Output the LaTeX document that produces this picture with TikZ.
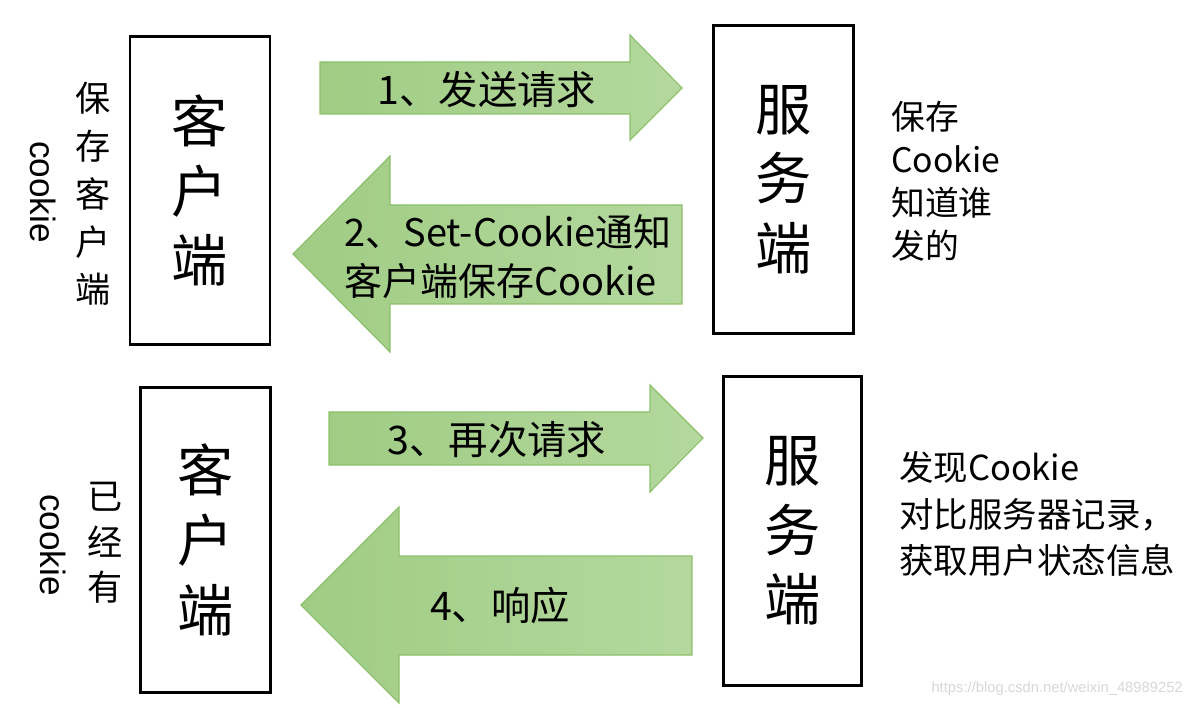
\documentclass[tikz,border=0pt]{standalone}
\usepackage{fontspec}
\setmainfont{Noto Sans CJK SC}
\newfontfamily\arialfont{Liberation Sans}
\usetikzlibrary{positioning}
\definecolor{greendeep}{RGB}{160,204,132}
\definecolor{greenpale}{RGB}{180,216,158}
\definecolor{greenline}{RGB}{140,192,108}
\definecolor{markgray}{RGB}{215,215,215}

\begin{document}
\begin{tikzpicture}[
  x=0.025cm, y=-0.025cm,
  endbox/.style={
    draw=black,
    line width=2.1pt,
    minimum width=3.5cm,
    minimum height=7.72cm,
    inner sep=0pt,
    align=center,
    font=\fontsize{40}{49.5}\selectfont
  },
  blockarrow/.style={
    draw=greenline,
    line width=0.8pt,
    left color=greendeep,
    right color=greenpale
  },
  steptext/.style={font=\fontsize{28}{35}\selectfont, align=left},
  notetext/.style={font=\fontsize{24}{31}\selectfont, align=left, anchor=west, inner sep=0pt},
  stacktext/.style={font=\fontsize{25}{34}\selectfont, align=center, inner sep=0pt},
  sidecookie/.style={font=\arialfont\fontsize{25}{30}\selectfont, rotate=-90, inner sep=0pt}
]
\useasboundingbox (0,0) rectangle (1192,708);

% clients and servers
\node[endbox] (client1) at (200,190.5) {客\\户\\端};
\node[endbox] (server1) at (783.5,179.5) {服\\务\\端};
\node[endbox, minimum width=3.25cm, minimum height=7.6cm] (client2) at (205.5,540) {客\\户\\端};
\node[endbox, minimum width=3.47cm, minimum height=7.7cm] (server2) at (792.5,531) {服\\务\\端};

% block arrows
\draw[blockarrow] (320,62) -- (630,62) -- (630,35) -- (682,88) -- (630,140) -- (630,114) -- (320,114) -- cycle;
\node[steptext] (step1) at (487,90) {1、发送请求};

\draw[blockarrow] (682,205) -- (390,205) -- (390,156) -- (293,254) -- (390,352) -- (390,304) -- (682,304) -- cycle;
\node[steptext, font=\fontsize{27}{35}\selectfont] (step2) at (508,257) {2、Set-Cookie通知\\客户端保存Cookie};

\draw[blockarrow] (329,412) -- (650,412) -- (650,385) -- (703,438) -- (650,492) -- (650,465) -- (329,465) -- cycle;
\node[steptext] (step3) at (497,440) {3、再次请求};

\draw[blockarrow] (692,556) -- (399,556) -- (399,507) -- (301,605) -- (399,703) -- (399,655) -- (692,655) -- cycle;
\node[steptext] (step4) at (500,606) {4、响应};

% notes beside the boxes
\node[stacktext] (keep) at (93,194) {保\\存\\客\\户\\端};
\node[sidecookie] (cookie1) at (43,192) {cookie};
\node[stacktext, font=\fontsize{25}{32.5}\selectfont] (have) at (105,543) {已\\经\\有};
\node[sidecookie] (cookie2) at (53,545) {cookie};

\node[notetext, font=\fontsize{24}{30.5}\selectfont] (note1) at (891,181) {保存\\Cookie\\知道谁\\发的};
\node[notetext, font=\fontsize{24.5}{33}\selectfont] (note2) at (899,514) {发现Cookie\\对比服务器记录，\\获取用户状态信息};

\node[font=\arialfont\fontsize{10.5}{12}\selectfont, text=markgray, anchor=east, inner sep=0pt] (mark) at (1183,689) {https://blog.csdn.net/weixin\_48989252};
\end{tikzpicture}
\end{document}
